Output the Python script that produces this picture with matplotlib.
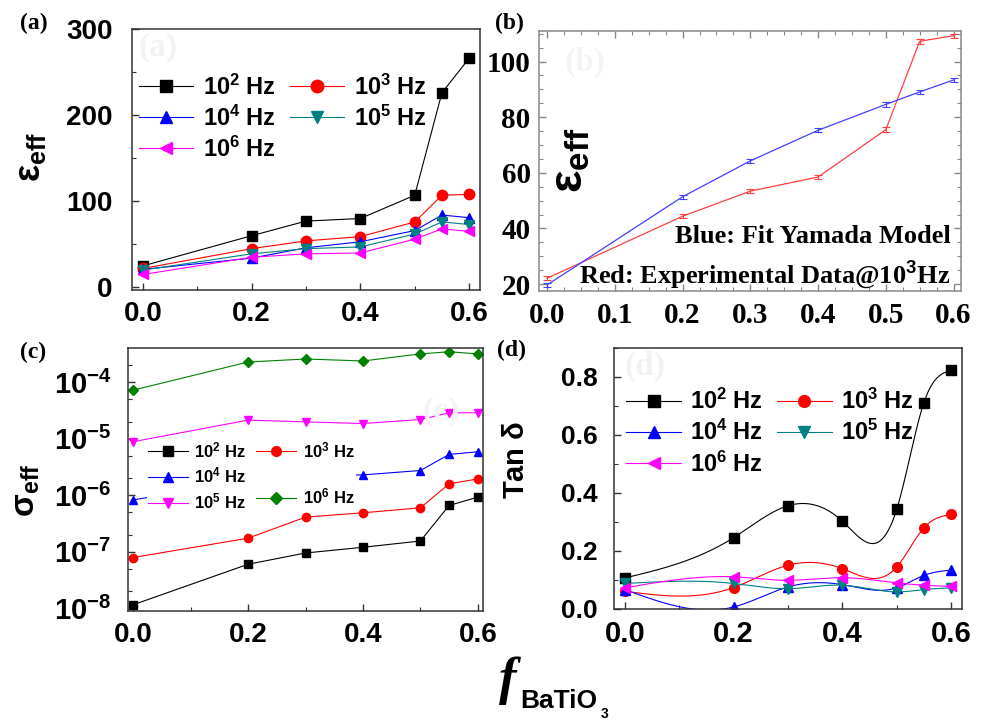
import numpy as np
import matplotlib
matplotlib.use("Agg")
from matplotlib import pyplot as plt
from matplotlib.lines import Line2D
from matplotlib.ticker import MultipleLocator, FixedLocator, FuncFormatter

plt.rcParams['font.family'] = ['Liberation Sans', 'DejaVu Sans']
plt.rcParams['font.weight'] = 'bold'
plt.rcParams['mathtext.fontset'] = 'custom'
plt.rcParams['mathtext.rm'] = 'Liberation Sans:bold'
plt.rcParams['mathtext.bf'] = 'Liberation Sans:bold'
plt.rcParams['mathtext.it'] = 'Liberation Sans:bold:italic'

# BaTiO3 volume fraction
frac = [0.0, 0.2, 0.3, 0.4, 0.5, 0.55, 0.6]

# (a) effective permittivity
eps_1e2 = [25, 60, 77, 80, 107, 226, 266]
eps_1e3 = [22, 45, 54, 59, 76, 107, 108]
eps_1e4 = [21, 34, 46, 53, 66, 84, 81]
eps_1e5 = [20, 39, 45, 47, 62, 76, 73]
eps_1e6 = [15, 35, 39, 40, 56, 68, 65]

# (b) Yamada fit vs experiment at 1 kHz
eps_exp = [22.1, 44.4, 53.4, 58.5, 75.5, 107.3, 109.3]
eps_yamada = [19.7, 51.4, 64.3, 75.3, 84.6, 89.1, 93.4]
eps_err = 0.8

# (c) effective conductivity
sig_1e2 = [1.15e-8, 6.0e-8, 9.5e-8, 1.2e-7, 1.55e-7, 6.6e-7, 9.3e-7]
sig_1e3 = [7.9e-8, 1.74e-7, 4.1e-7, 4.9e-7, 6.0e-7, 1.6e-6, 1.95e-6]
sig_1e4 = [8.3e-7, 1.8e-6, 2.2e-6, 2.3e-6, 2.75e-6, 5.3e-6, 5.9e-6]
sig_1e5 = [8.9e-6, 2.15e-5, 2.0e-5, 1.87e-5, 2.2e-5, 2.9e-5, 2.9e-5]
sig_1e6 = [7.3e-5, 2.3e-4, 2.6e-4, 2.4e-4, 3.2e-4, 3.5e-4, 3.2e-4]

# (d) loss tangent
tan_1e2 = [0.107, 0.246, 0.356, 0.303, 0.344, 0.712, 0.823]
tan_1e3 = [0.061, 0.074, 0.151, 0.139, 0.145, 0.280, 0.326]
tan_1e4 = [0.067, 0.007, 0.076, 0.084, 0.073, 0.116, 0.134]
tan_1e5 = [0.088, 0.088, 0.070, 0.082, 0.059, 0.067, 0.073]
tan_1e6 = [0.073, 0.111, 0.099, 0.108, 0.090, 0.082, 0.078]

freq_labels = [r'$\mathbf{10^{2}}$ Hz', r'$\mathbf{10^{3}}$ Hz', r'$\mathbf{10^{4}}$ Hz',
               r'$\mathbf{10^{5}}$ Hz', r'$\mathbf{10^{6}}$ Hz']


def spline_curve(x, y, n=300):
    # natural cubic spline, only used to draw the smooth connecting lines
    x = np.asarray(x, float)
    y = np.asarray(y, float)
    h = np.diff(x)
    nn = len(x)
    A = np.zeros((nn, nn))
    b = np.zeros(nn)
    A[0, 0] = A[-1, -1] = 1
    for i in range(1, nn - 1):
        A[i, i - 1] = h[i - 1]
        A[i, i] = 2 * (h[i - 1] + h[i])
        A[i, i + 1] = h[i]
        b[i] = 3 * ((y[i + 1] - y[i]) / h[i] - (y[i] - y[i - 1]) / h[i - 1])
    c = np.linalg.solve(A, b)
    xs = np.linspace(x[0], x[-1], n)
    idx = np.clip(np.searchsorted(x, xs) - 1, 0, nn - 2)
    dx = xs - x[idx]
    bc = (y[1:] - y[:-1]) / h - h * (2 * c[:-1] + c[1:]) / 3
    d = (c[1:] - c[:-1]) / (3 * h)
    return xs, y[idx] + bc[idx] * dx + c[idx] * dx ** 2 + d[idx] * dx ** 3


W, H = 983, 725
fig = plt.figure(figsize=(W / 100, H / 100), dpi=100)


def px_axes(left, top, right, bottom):
    return fig.add_axes([left / W, 1 - bottom / H, (right - left) / W, (bottom - top) / H])


def style_axes(ax, spine_color='#333333'):
    for s in ax.spines.values():
        s.set_color(spine_color)
        s.set_linewidth(1.1)
    ax.tick_params(which='both', direction='in', color=spine_color)
    ax.tick_params(which='major', length=5, width=1)
    ax.tick_params(which='minor', length=3, width=0.8)


def fig_label(x, y, s):
    fig.text(x / W, 1 - y / H, s, family='Liberation Serif', fontweight='bold',
             fontsize=17, ha='left', va='center')


cols5 = ['black', 'red', 'blue', '#008080', 'magenta']
marks5 = ['s', 'o', '^', 'v', '<']
order = [0, 2, 4, 1, 3]

# ---------------- (a) ----------------
ax = px_axes(132, 29, 480, 290)
style_axes(ax)
series_a = [eps_1e2, eps_1e3, eps_1e4, eps_1e5, eps_1e6]
handles = []
for ys, c, m, lab in zip(series_a, cols5, marks5, freq_labels):
    ax.plot(frac, ys, color=c, lw=0.8, marker=m, ms=7.5)
    handles.append(Line2D([], [], color=c, lw=0.8, marker=m, ms=9, label=lab))
ax.set_xlim(-0.02, 0.62)
ax.set_ylim(-3, 300)
ax.xaxis.set_major_locator(MultipleLocator(0.2))
ax.xaxis.set_minor_locator(MultipleLocator(0.1))
ax.yaxis.set_major_locator(MultipleLocator(100))
ax.yaxis.set_minor_locator(MultipleLocator(50))
ax.tick_params(axis='x', labelsize=20, pad=8)
ax.tick_params(axis='y', labelsize=20, pad=14)
ax.text(0.02, 0.93, '(a)', transform=ax.transAxes, family='Liberation Serif',
        fontweight='bold', fontsize=24, color='#f2f2f2', va='center')
ax.legend([handles[i] for i in order], [freq_labels[i] for i in order], ncol=2,
          loc='upper left', bbox_to_anchor=(-0.027, 0.89), frameon=False,
          prop={'size': 17, 'weight': 'bold'}, handlelength=2.3, handletextpad=0.4,
          columnspacing=0.6, labelspacing=0.25, borderpad=0.2)
fig.text(30 / W, 1 - 157 / H, r'$\mathbf{\varepsilon_{eff}}$', rotation=90,
         fontsize=26, ha='center', va='center')
fig_label(20, 23, '(a)')

# ---------------- (b) ----------------
ax = px_axes(539, 31, 961, 291)
style_axes(ax, '#888888')
ax.errorbar(frac, eps_exp, yerr=eps_err, color='#ff4040', lw=0.9, capsize=3,
            elinewidth=0.8, capthick=0.8)
ax.errorbar(frac, eps_yamada, yerr=eps_err, color='#4040ff', lw=0.9, capsize=3,
            elinewidth=0.8, capthick=0.8)
ax.set_xlim(-0.012, 0.611)
ax.set_ylim(17.5, 111)
ax.xaxis.set_major_locator(MultipleLocator(0.1))
ax.xaxis.set_minor_locator(MultipleLocator(0.025))
ax.yaxis.set_major_locator(MultipleLocator(20))
ax.yaxis.set_minor_locator(MultipleLocator(5))
ax.tick_params(which='both', top=True, right=True)
for lab in ax.get_xticklabels() + ax.get_yticklabels():
    lab.set_family('Liberation Serif')
    lab.set_fontweight('bold')
ax.tick_params(axis='x', labelsize=21, pad=8)
ax.tick_params(axis='y', labelsize=21, pad=6)
ax.text(0.06, 0.88, '(b)', transform=ax.transAxes, family='Liberation Serif',
        fontweight='bold', fontsize=24, color='#f4f4f4', va='center')
ax.text(0.975, 0.21, 'Blue: Fit Yamada Model', transform=ax.transAxes, ha='right',
        va='center', family='Liberation Serif', fontweight='bold', fontsize=19)
ax.text(0.975, 0.06, r'Red: Experimental Data@10$^{\mathbf{3}}$Hz', transform=ax.transAxes,
        ha='right', va='center', family='Liberation Serif', fontweight='bold', fontsize=19)
fig.text(570 / W, 1 - 160 / H, r'$\mathbf{\varepsilon_{eff}}$', rotation=90,
         fontsize=34, ha='center', va='center')
fig_label(495, 23, '(b)')

# ---------------- (c) ----------------
ax = px_axes(128, 348, 483, 611)
style_axes(ax)
series_c = [sig_1e2, sig_1e3, sig_1e4, sig_1e5, sig_1e6]
cols_c = ['black', 'red', 'blue', 'magenta', 'green']
marks_c = ['s', 'o', '^', 'v', 'D']
handles = []
for ys, c, m, lab in zip(series_c, cols_c, marks_c, freq_labels):
    ax.plot(frac, ys, color=c, lw=0.8, marker=m, ms=6 if m != 'D' else 5)
    handles.append(Line2D([], [], color=c, lw=0.8, marker=m, ms=7 if m != 'D' else 6, label=lab))
ax.set_yscale('log')
ax.set_xlim(-0.009, 0.609)
ax.set_ylim(10 ** -8.05, 10 ** -3.39)
ax.xaxis.set_major_locator(MultipleLocator(0.2))
ax.xaxis.set_minor_locator(MultipleLocator(0.1))
ax.yaxis.set_major_locator(FixedLocator([1e-8, 1e-7, 1e-6, 1e-5, 1e-4]))
ax.yaxis.set_major_formatter(FuncFormatter(
    lambda v, p: r'$\mathbf{10^{%d}}$' % int(round(np.log10(v)))))
ax.yaxis.set_minor_locator(FixedLocator([k * 10.0 ** e for e in range(-9, -3) for k in (2, 5)]))
ax.yaxis.set_minor_formatter(FuncFormatter(lambda v, p: ''))
ax.tick_params(axis='x', labelsize=20, pad=8)
ax.tick_params(axis='y', labelsize=21, pad=12)
ax.text(0.83, 0.76, '(c)', transform=ax.transAxes, family='Liberation Serif',
        fontweight='bold', fontsize=24, color='#f4f4f4', va='center')
blank = Line2D([], [], color='none')
leg = ax.legend([handles[0], handles[2], handles[3], handles[1], blank, handles[4]],
                [freq_labels[0], freq_labels[2], freq_labels[3], freq_labels[1], '', freq_labels[4]],
                ncol=2, loc='upper left', bbox_to_anchor=(0.03, 0.685), frameon=True,
                prop={'size': 12, 'weight': 'bold'}, handlelength=2.4, handletextpad=0.4,
                columnspacing=0.6, labelspacing=0.35, borderpad=0.05)
leg.get_frame().set_edgecolor('none')
leg.get_frame().set_facecolor('white')
leg.get_frame().set_alpha(1)
fig.text(27 / W, 1 - 490 / H, r'$\mathbf{\sigma_{eff}}$', rotation=90,
         fontsize=24, ha='center', va='center')
fig_label(20, 352, '(c)')

# ---------------- (d) ----------------
ax = px_axes(614, 348, 962, 609)
style_axes(ax)
series_d = [tan_1e2, tan_1e3, tan_1e4, tan_1e5, tan_1e6]
handles = []
for ys, c, m, lab in zip(series_d, cols5, marks5, freq_labels):
    xs, ss = spline_curve(frac, ys)
    ax.plot(xs, ss, color=c, lw=0.8)
    ax.plot(frac, ys, color=c, ls='none', marker=m, ms=7)
    handles.append(Line2D([], [], color=c, lw=0.8, marker=m, ms=8.5, label=lab))
ax.set_xlim(-0.02, 0.62)
ax.set_ylim(0, 0.9)
ax.xaxis.set_major_locator(MultipleLocator(0.2))
ax.xaxis.set_minor_locator(MultipleLocator(0.1))
ax.yaxis.set_major_locator(MultipleLocator(0.2))
ax.yaxis.set_minor_locator(MultipleLocator(0.1))
ax.tick_params(axis='x', labelsize=21, pad=8)
ax.tick_params(axis='y', labelsize=19, pad=12)
ax.text(0.03, 0.93, '(d)', transform=ax.transAxes, family='Liberation Serif',
        fontweight='bold', fontsize=24, color='#f2f2f2', va='center')
ax.legend([handles[i] for i in order], [freq_labels[i] for i in order], ncol=2,
          loc='upper left', bbox_to_anchor=(-0.012, 0.906), frameon=False,
          prop={'size': 17, 'weight': 'bold'}, handlelength=2.3, handletextpad=0.4,
          columnspacing=0.6, labelspacing=0.25, borderpad=0.2)
fig.text(516 / W, 1 - 460 / H, r'Tan $\mathbf{\delta}$', rotation=90, fontsize=21,
         ha='center', va='center')
fig_label(497, 350, '(d)')

# shared x label
fig.text(508 / W, 1 - 681 / H, 'f', family='Liberation Serif', style='italic',
         fontweight='bold', fontsize=38, ha='center', va='center')
fig.text(520 / W, 1 - 701 / H, 'BaTiO', fontsize=19, ha='left', va='center')
fig.text(601 / W, 1 - 714 / H, '3', fontsize=10, ha='left', va='center')

plt.savefig('out.png', dpi=100)
